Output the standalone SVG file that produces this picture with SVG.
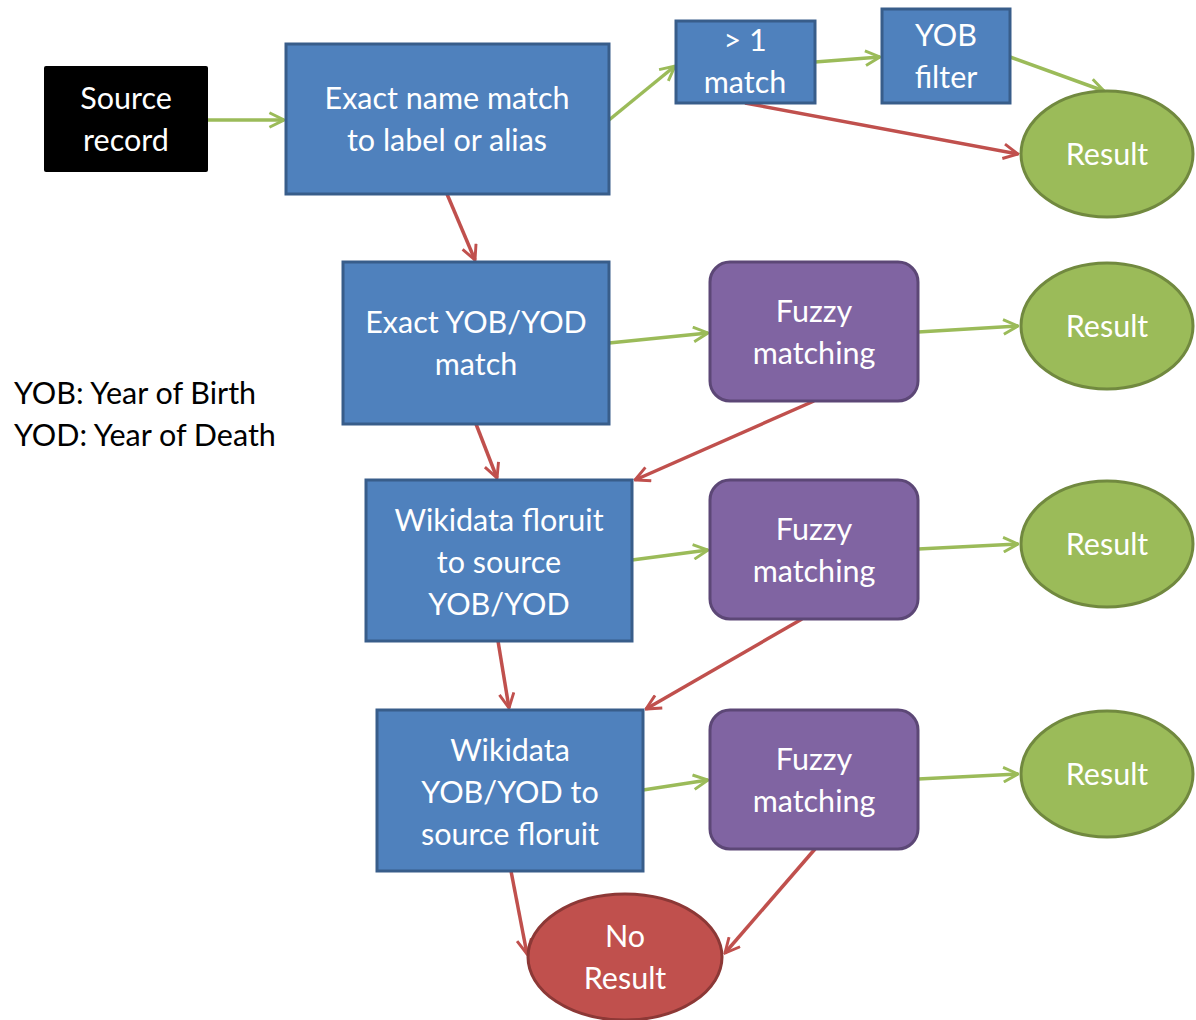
<svg xmlns="http://www.w3.org/2000/svg" width="1196" height="1020" viewBox="0 0 1196 1020">
<defs>
<marker id="ag" viewBox="0 0 12 12" refX="11" refY="6" markerWidth="5" markerHeight="5" markerUnits="strokeWidth" orient="auto"><path d="M1,1 L11,6 L1,11" fill="none" stroke="#9BBB59" stroke-width="2"/></marker>
<marker id="ar" viewBox="0 0 12 12" refX="11" refY="6" markerWidth="5" markerHeight="5" markerUnits="strokeWidth" orient="auto"><path d="M1,1 L11,6 L1,11" fill="none" stroke="#C0504D" stroke-width="2"/></marker>
</defs>
<style>
text{font-family:Lato,"Open Sans","Liberation Sans",sans-serif;font-size:30.5px;fill:#fff;text-anchor:middle}
.blue{fill:#4F81BD;stroke:#385D8A;stroke-width:3}
.purple{fill:#8064A2;stroke:#5C4776;stroke-width:3}
.green{fill:#9BBB59;stroke:#71893F;stroke-width:3}
.red{fill:#C0504D;stroke:#8C3836;stroke-width:3}
.g{stroke:#9BBB59;stroke-width:3.5;fill:none;marker-end:url(#ag)}
.r{stroke:#C0504D;stroke-width:3.5;fill:none;marker-end:url(#ar)}
.legend{fill:#000;text-anchor:start}
</style>
<rect width="1196" height="1020" fill="#fff"/>
<g id="connectors">
<line class="g" x1="208" y1="120" x2="284" y2="120"/>
<line class="g" x1="609" y1="120" x2="675" y2="66"/>
<line class="g" x1="815" y1="62" x2="880" y2="57"/>
<line class="g" x1="1010" y1="57" x2="1104" y2="91"/>
<line class="r" x1="745" y1="103" x2="1018" y2="154"/>
<line class="r" x1="447" y1="194" x2="475" y2="260"/>
<line class="g" x1="609" y1="343" x2="708" y2="333"/>
<line class="g" x1="918" y1="332" x2="1018" y2="326"/>
<line class="r" x1="814" y1="401" x2="635" y2="480"/>
<line class="r" x1="476" y1="424" x2="497" y2="478"/>
<line class="g" x1="632" y1="560" x2="708" y2="550"/>
<line class="g" x1="918" y1="549" x2="1018" y2="544"/>
<line class="r" x1="802" y1="619" x2="646" y2="709"/>
<line class="r" x1="498" y1="641" x2="509" y2="708"/>
<line class="g" x1="643" y1="790" x2="708" y2="780"/>
<line class="g" x1="918" y1="779" x2="1018" y2="774"/>
<line class="r" x1="511" y1="871" x2="527" y2="954"/>
<line class="r" x1="815" y1="849" x2="725" y2="953"/>
</g>
<g id="source">
<rect x="44" y="66" width="164" height="106" rx="2" fill="#000"/>
<text x="126" y="109">Source</text><text x="126" y="151">record</text>
</g>
<g id="exactname">
<rect class="blue" x="286" y="44" width="323" height="150"/>
<text x="447" y="109">Exact name match</text><text x="447" y="151">to label or alias</text>
</g>
<g id="gt1">
<rect class="blue" x="676" y="21" width="139" height="82"/>
<text x="745" y="51">&gt; 1</text><text x="745" y="93">match</text>
</g>
<g id="yobfilter">
<rect class="blue" x="882" y="9" width="128" height="94"/>
<text x="946" y="46">YOB</text><text x="946" y="88">filter</text>
</g>
<g id="result1">
<ellipse class="green" cx="1107" cy="154" rx="86" ry="63"/>
<text x="1107" y="165">Result</text>
</g>
<g id="exactyob">
<rect class="blue" x="343" y="262" width="266" height="162"/>
<text x="476" y="333">Exact YOB/YOD</text><text x="476" y="375">match</text>
</g>
<g id="fuzzy1">
<rect class="purple" x="710" y="262" width="208" height="139" rx="20"/>
<text x="814" y="322">Fuzzy</text><text x="814" y="364">matching</text>
</g>
<g id="result2">
<ellipse class="green" cx="1107" cy="326" rx="86" ry="63"/>
<text x="1107" y="337">Result</text>
</g>
<g id="floruit">
<rect class="blue" x="366" y="480" width="266" height="161"/>
<text x="499" y="531">Wikidata floruit</text><text x="499" y="573">to source</text><text x="499" y="615">YOB/YOD</text>
</g>
<g id="fuzzy2">
<rect class="purple" x="710" y="480" width="208" height="139" rx="20"/>
<text x="814" y="540">Fuzzy</text><text x="814" y="582">matching</text>
</g>
<g id="result3">
<ellipse class="green" cx="1107" cy="544" rx="86" ry="63"/>
<text x="1107" y="555">Result</text>
</g>
<g id="wikiyob">
<rect class="blue" x="377" y="710" width="266" height="161"/>
<text x="510" y="761">Wikidata</text><text x="510" y="803">YOB/YOD to</text><text x="510" y="845">source floruit</text>
</g>
<g id="fuzzy3">
<rect class="purple" x="710" y="710" width="208" height="139" rx="20"/>
<text x="814" y="770">Fuzzy</text><text x="814" y="812">matching</text>
</g>
<g id="result4">
<ellipse class="green" cx="1107" cy="774" rx="86" ry="63"/>
<text x="1107" y="785">Result</text>
</g>
<g id="noresult">
<ellipse class="red" cx="625" cy="957" rx="97" ry="63"/>
<text x="625" y="947">No</text><text x="625" y="989">Result</text>
</g>
<g id="legend">
<text class="legend" x="14" y="404">YOB: Year of Birth</text>
<text class="legend" x="14" y="446">YOD: Year of Death</text>
</g>
</svg>
